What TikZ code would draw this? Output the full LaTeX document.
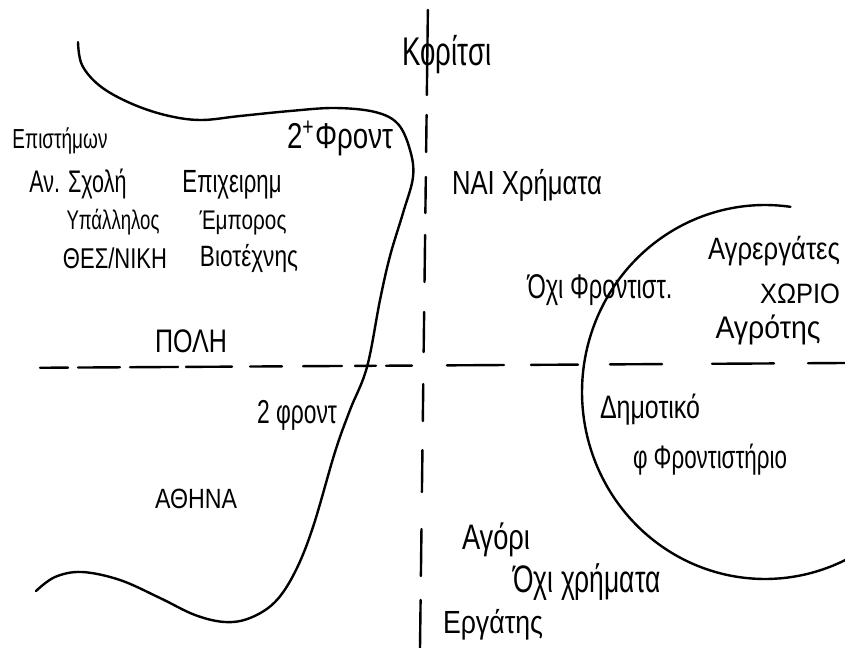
\documentclass[tikz,border=0pt]{standalone}
\usepackage{fontspec}
\setmainfont{Liberation Sans}
\newdimen\pxu \pxu=0.75pt
\newcommand{\hw}[3][1.45]{\resizebox{#2\pxu}{!}{\scalebox{1}[#1]{#3}}}
\begin{document}
\begin{tikzpicture}[x=0.75pt,y=-0.75pt,
  sk/.style={line width=1.8pt, line cap=round, line join=round},
  lbl/.style={inner sep=0pt, anchor=center}]
\useasboundingbox (0,0) rectangle (845,648);
\fill[white] (0,0) rectangle (845,648);
\clip (0,0) rectangle (845,648);
% left boundary curve
\draw[sk] plot[smooth, tension=0.6] coordinates {(78,42) (82,65) (100,86) (130,103) (165,115) (200,120) (240,116) (290,111) (335,108) (375,112) (398,124) (410,150) (413,177) (403,213) (390,256) (380,300) (367,367) (350,410) (335,452) (313,527) (295,572) (275,602) (250,618) (225,622) (195,615) (160,598) (120,580) (82,572) (55,577) (36,591)};
% circle (village)
\draw[sk] plot[smooth, domain=82:302, samples=90] ({765+183*cos(\x)},{392-187*sin(\x)});
% vertical dashed axis
\foreach \a/\b in {10/95,115/152,177/213,235/282,312/352,384/421,450/492,529/576,600/648}
  \draw[sk] ({428-8*\a/648},\a) -- ({428-8*\b/648},\b);
% horizontal dashed axis
\foreach \a/\b in {40/68,78/120,130/178,186/232,250/282,303/342,355/376,386/412,447/504,531/578,610/662,712/774,808/845}
  \draw[sk] (\a,{368-5*\a/845}) -- (\b,{368-5*\b/845});
% labels
\node[lbl] (koritsi) at (447,55) {\hw{89}{Κορίτσι}};
\node[lbl] (epist) at (60,141) {\hw{95}{Επιστήμων}};
\node[lbl] (anschol) at (78,184) {\hw{97}{Αν. Σχολή}};
\node[lbl] (epixeir) at (232,185) {\hw{99}{Επιχειρημ}};
\node[lbl] (ypall) at (113,222) {\hw{93}{Υπάλληλος}};
\node[lbl] (empor) at (243,223) {\hw[1.3]{87}{Έμπορος}};
\node[lbl] (thess) at (115,258) {\hw[1.3]{104}{ΘΕΣ/ΝΙΚΗ}};
\node[lbl] (viot) at (249,258) {\hw[1.3]{98}{Βιοτέχνης}};
\node[lbl] (fr2p) at (340,138) {\hw[1.3]{106}{2\textsuperscript{+}Φροντ}};
\node[lbl] (naixr) at (527,185) {\hw[1.3]{150}{ΝΑΙ Χρήματα}};
\node[lbl] (poli) at (191,341) {\hw[1.3]{72}{ΠΟΛΗ}};
\node[lbl] (fr2) at (297,415) {\hw{80}{2 φροντ}};
\node[lbl] (athina) at (196,499) {\hw[1.2]{82}{ΑΘΗΝΑ}};
\node[lbl] (oxifr) at (600,290) {\hw{145}{Όχι Φροντιστ.}};
\node[lbl] (agrerg) at (774,251) {\hw[1.2]{132}{Αγρεργάτες}};
\node[lbl] (xorio) at (800,294) {\hw[1.1]{80}{ΧΩΡΙΟ}};
\node[lbl] (agrot) at (768,330) {\hw[1.1]{105}{Αγρότης}};
\node[lbl] (dimot) at (650,410) {\hw[1.3]{100}{Δημοτικό}};
\node[lbl] (frontist) at (710,460) {\hw{154}{φ Φροντιστήριο}};
\node[lbl] (agori) at (496,540) {\hw[1.3]{68}{Αγόρι}};
\node[lbl] (oxixr) at (587,582) {\hw{147}{Όχι χρήματα}};
\node[lbl] (ergatis) at (493,625) {\hw[1.2]{100}{Εργάτης}};
\end{tikzpicture}
\end{document}
